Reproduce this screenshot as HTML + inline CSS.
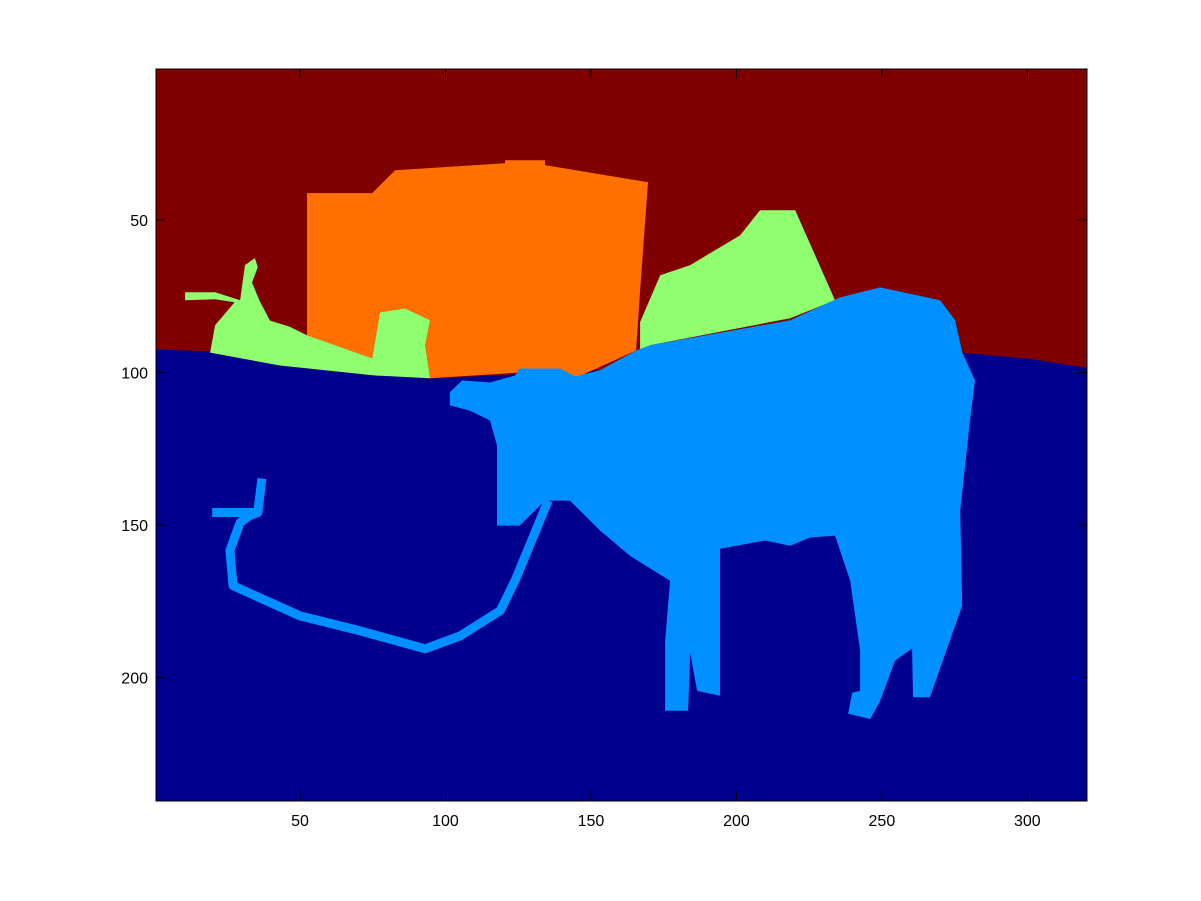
<!DOCTYPE html>
<html><head><meta charset="utf-8"><style>
html,body{margin:0;padding:0;background:#fff;}
svg{display:block;font-family:"Liberation Sans",sans-serif;}
</style></head><body>
<svg id="chart" width="1201" height="901" xmlns="http://www.w3.org/2000/svg">
<rect width="1201" height="901" fill="#fff"/>
<g id="plot"></g>
<g id="axes"></g>
</svg>
<script>
const NCOLS = 320, NROWS = 240;
const xTicks = [50,100,150,200,250,300];
const yTicks = [50,100,150,200];
const regionNames = ['background-sky','ground','box','plant-left','plant-right','cow'];
const regionColors = ['#800000','#00008f','#ff7000','#8fff70','#8fff70','#0090ff'];
const skyRegion = [[0,0],[320,0],[320,240],[0,240]];
const groundRegion = [[0,92],[18,92.5],[42,97],[94,101.5],[277,93],[300,95],[320,98],[320,240],[0,240]];
const boxRegion = [[51.9,40.7],[74.3,40.7],[82.2,33.2],[120,30.9],[120,29.9],[133.7,29.9],[133.7,31.5],[169.1,37.1],[166.4,72.6],[165,92.3],[144,101.4],[137,99],[125,99.5],[94.2,101.4],[92.5,90.6],[94.2,82.4],[85.6,78.5],[77,79.8],[74.3,94.9],[51.9,87.3]];
const plantLeftRegion = [[10,73.2],[20.3,73.2],[28.9,75.8],[30.6,64.3],[34,62],[35,65],[33,70],[35.5,75.8],[39.2,82.5],[46,84.5],[51.9,87.3],[74.3,94.9],[77,79.8],[85.6,78.5],[94.2,82.4],[92.5,90.6],[94.2,101.4],[75.3,100.5],[42.6,97.2],[18.6,93],[20.3,84],[27,76.5],[20.3,75.5],[10,75.8]];
const plantRightRegion = [[166.4,83],[173.3,67.6],[183.6,64.3],[200.8,54.5],[207.6,46.3],[219.7,46.3],[233.4,75.8],[218,81.7],[169.8,90.6],[166.4,92.9]];
const cowRegion = [[101,106],[105.2,102.1],[114.8,102.8],[123.4,100.5],[125,98.2],[138.9,98.2],[144,100.8],[152.6,98.8],[165,92.3],[169.8,90.6],[218,82.4],[235.1,74.9],[248.9,71.6],[269.5,75.8],[274.7,82.4],[277.1,92.9],[281.5,102.1],[279.8,115.2],[276.4,144.8],[277.1,176],[266,206],[260.2,206],[259.9,190],[254,194],[248.9,207.2],[245.5,213.1],[237.9,211.4],[239.3,204.5],[242,203.9],[242,190.7],[238.6,167.8],[233.4,153],[224.8,153.6],[218,156.3],[209.4,154.6],[193.9,157.3],[193.9,205.5],[186,203.9],[183.6,191.4],[182.9,210.4],[175,210.4],[175,187.5],[176.7,167.8],[162.9,159.6],[152.6,151.3],[142.3,141.5],[133.7,141.5],[125,149.7],[117.2,149.7],[117.2,123.4],[114.8,115.2],[107.9,112],[101,110.3]];
const ropeMain = [[35,145.4],[32.3,146.4],[28.9,148.7],[25.4,157.9],[26.5,169.4],[49.5,179.3],[70.1,184.2],[92.5,190.1],[104.5,185.9],[118.3,177.6],[123.4,167.8],[134.8,141.5]];
const ropeHandle = [[19.3,145.4],[35,145.4],[36.4,134.3]];

const X0=156, X1=1087, Y0=69, Y1=801;
function sx(c){return X0 + c*(X1-X0)/NCOLS;}
function sy(r){return Y0 + r*(Y1-Y0)/NROWS;}
function sxTick(v){return X0 + (v-0.5)*(X1-X0)/NCOLS;}
function syTick(v){return Y0 + (v-0.5)*(Y1-Y0)/NROWS;}
const NS='http://www.w3.org/2000/svg';
const plot=document.getElementById('plot');
const axes=document.getElementById('axes');
function pts(a){return a.map(p=>sx(p[0]).toFixed(1)+','+sy(p[1]).toFixed(1)).join(' ');}
const regions=[skyRegion,groundRegion,boxRegion,plantLeftRegion,plantRightRegion,cowRegion];
regions.forEach((reg,i)=>{
  const p=document.createElementNS(NS,'polygon');
  p.setAttribute('points',pts(reg));
  p.setAttribute('fill',regionColors[i]);
  
  
  plot.appendChild(p);
});
[ropeMain,ropeHandle].forEach((line,i)=>{
  const l=document.createElementNS(NS,'polyline');
  l.setAttribute('points',pts(line));
  l.setAttribute('fill','none');
  l.setAttribute('stroke','#0090ff');
  l.setAttribute('stroke-width','9');
  l.setAttribute('stroke-linejoin','round');
  
  
  plot.appendChild(l);
});
const box=document.createElementNS(NS,'rect');
box.setAttribute('x',X0);box.setAttribute('y',Y0);
box.setAttribute('width',X1-X0);box.setAttribute('height',Y1-Y0);
box.setAttribute('fill','none');box.setAttribute('stroke','#000');box.setAttribute('stroke-width','1');


axes.appendChild(box);
function line(x1,y1,x2,y2,name){
  const l=document.createElementNS(NS,'line');
  l.setAttribute('x1',x1);l.setAttribute('y1',y1);l.setAttribute('x2',x2);l.setAttribute('y2',y2);
  l.setAttribute('stroke','#000');
  
  
  axes.appendChild(l);
}
function text(x,y,s,anchor,name){
  const t=document.createElementNS(NS,'text');
  t.setAttribute('x',x);t.setAttribute('y',y);t.setAttribute('text-anchor',anchor);
  t.setAttribute('font-size','16');t.textContent=s;
  
  
  axes.appendChild(t);
}
xTicks.forEach(v=>{
  const x=sxTick(v);
  line(x,Y1,x,Y1-9,'x-tick-'+v);
  line(x,Y0,x,Y0+9,'x-tick-top-'+v);
  text(x,Y1+25,String(v),'middle','x-tick-label-'+v);
});
yTicks.forEach(v=>{
  const y=syTick(v);
  line(X0,y,X0+9,y,'y-tick-'+v);
  line(X1,y,X1-9,y,'y-tick-right-'+v);
  text(X0-8,y+6,String(v),'end','y-tick-label-'+v);
});
</script>
</body></html>
